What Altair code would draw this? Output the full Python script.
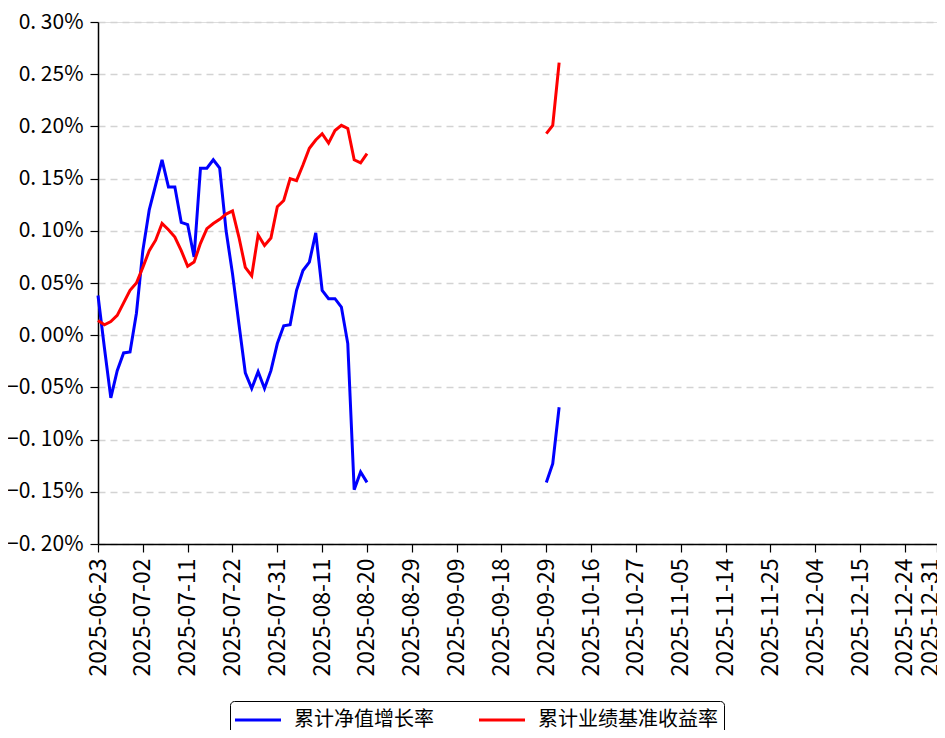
import altair as alt
import pandas as pd

# Trading-day calendar (x axis categories): weekdays, excluding the National Day holiday
holidays = ["2025-10-01", "2025-10-02", "2025-10-03", "2025-10-06", "2025-10-07", "2025-10-08"]
calendar = [d.strftime("%Y-%m-%d") for d in pd.bdate_range("2025-06-23", "2025-12-31")
            if d.strftime("%Y-%m-%d") not in holidays]

tick_labels = calendar[::7] + [calendar[-1]]

# observed trading days: two segments
seg1_idx = list(range(0, 43))      # 2025-06-23 .. 2025-08-20
seg2_idx = [70, 71, 72]            # 2025-09-29, 2025-09-30, 2025-10-09

nav_seg1 = [0.038, -0.012, -0.060, -0.034, -0.017, -0.016, 0.021, 0.081, 0.120, 0.144,
            0.168, 0.142, 0.142, 0.108, 0.106, 0.075, 0.160, 0.160, 0.168, 0.160,
            0.100, 0.059, 0.011, -0.036, -0.051, -0.035, -0.051, -0.034, -0.008, 0.009,
            0.010, 0.043, 0.062, 0.070, 0.098, 0.043, 0.035, 0.035, 0.027, -0.008,
            -0.148, -0.131, -0.141]
nav_seg2 = [-0.141, -0.123, -0.069]

bench_seg1 = [0.014, 0.010, 0.013, 0.019, 0.031, 0.043, 0.050, 0.065, 0.081, 0.091,
              0.107, 0.101, 0.094, 0.081, 0.066, 0.070, 0.088, 0.102, 0.107, 0.111,
              0.116, 0.119, 0.094, 0.065, 0.057, 0.096, 0.086, 0.093, 0.123, 0.129,
              0.150, 0.148, 0.163, 0.179, 0.187, 0.193, 0.184, 0.196, 0.201, 0.198,
              0.168, 0.165, 0.174]
bench_seg2 = [0.193, 0.201, 0.261]

series_names = ["累计净值增长率", "累计业绩基准收益率"]
series_colors = ["#0000ff", "#ff0000"]

rows = []
for name, s1, s2 in [(series_names[0], nav_seg1, nav_seg2),
                     (series_names[1], bench_seg1, bench_seg2)]:
    for i, v in zip(seg1_idx, s1):
        rows.append({"date": calendar[i], "value": v, "series": name, "seg": name + "1"})
    for i, v in zip(seg2_idx, s2):
        rows.append({"date": calendar[i], "value": v, "series": name, "seg": name + "2"})
df = pd.DataFrame(rows)

FONT = "Noto Sans CJK SC"
y_ticks = [-0.20, -0.15, -0.10, -0.05, 0.0, 0.05, 0.10, 0.15, 0.20, 0.25, 0.30]
last_day = calendar[-1]

chart = alt.Chart(df).mark_line(strokeWidth=3).encode(
    x=alt.X("date:O",
            scale=alt.Scale(type="point", domain=calendar, padding=0),
            axis=alt.Axis(values=tick_labels, labelAngle=270, title=None, grid=False,
                          labelBaseline={"condition": {"test": f"datum.value == '{last_day}'",
                                                       "value": "alphabetic"},
                                         "value": "middle"},
                          labelFontSize=23, labelFont=FONT, labelColor="black",
                          tickSize=8, tickColor="black", tickWidth=1.2,
                          domainColor="black", domainWidth=1.5, labelPadding=6)),
    y=alt.Y("value:Q",
            scale=alt.Scale(domain=[-0.2, 0.3], nice=False, zero=False),
            axis=alt.Axis(values=y_ticks, title=None,
                          labelExpr="replace(format(datum.value, '.2f'), '.', '. ') + '%'",
                          labelFontSize=21, labelFont=FONT, labelColor="black",
                          tickSize=8, tickColor="black", tickWidth=1.2,
                          domainColor="black", domainWidth=1.5, labelPadding=7,
                          grid=True, gridDash=[7, 5], gridColor="#d3d3d3", gridWidth=1.3)),
    color=alt.Color("series:N",
                    scale=alt.Scale(domain=series_names, range=series_colors),
                    legend=alt.Legend(title=None, orient="none", legendX=132, legendY=679,
                                      direction="horizontal", symbolType="M-2,0H2",
                                      symbolStrokeWidth=3, symbolSize=529,
                                      symbolOffset=9,
                                      labelFontSize=20, labelFont=FONT, labelColor="black",
                                      labelOffset=23, columnPadding=39, labelLimit=400,
                                      strokeColor="black", fillColor="white",
                                      padding=6, cornerRadius=4)),
    detail="seg:N",
).properties(
    width=839, height=522,
    autosize=alt.AutoSizeParams(type="none"),
    padding={"left": 90, "top": 14, "right": 0, "bottom": 186},
).configure_view(
    stroke="black", strokeWidth=1.5
).configure(background="white")

chart.save("out.html", embed_options={"renderer": "svg", "actions": False})
